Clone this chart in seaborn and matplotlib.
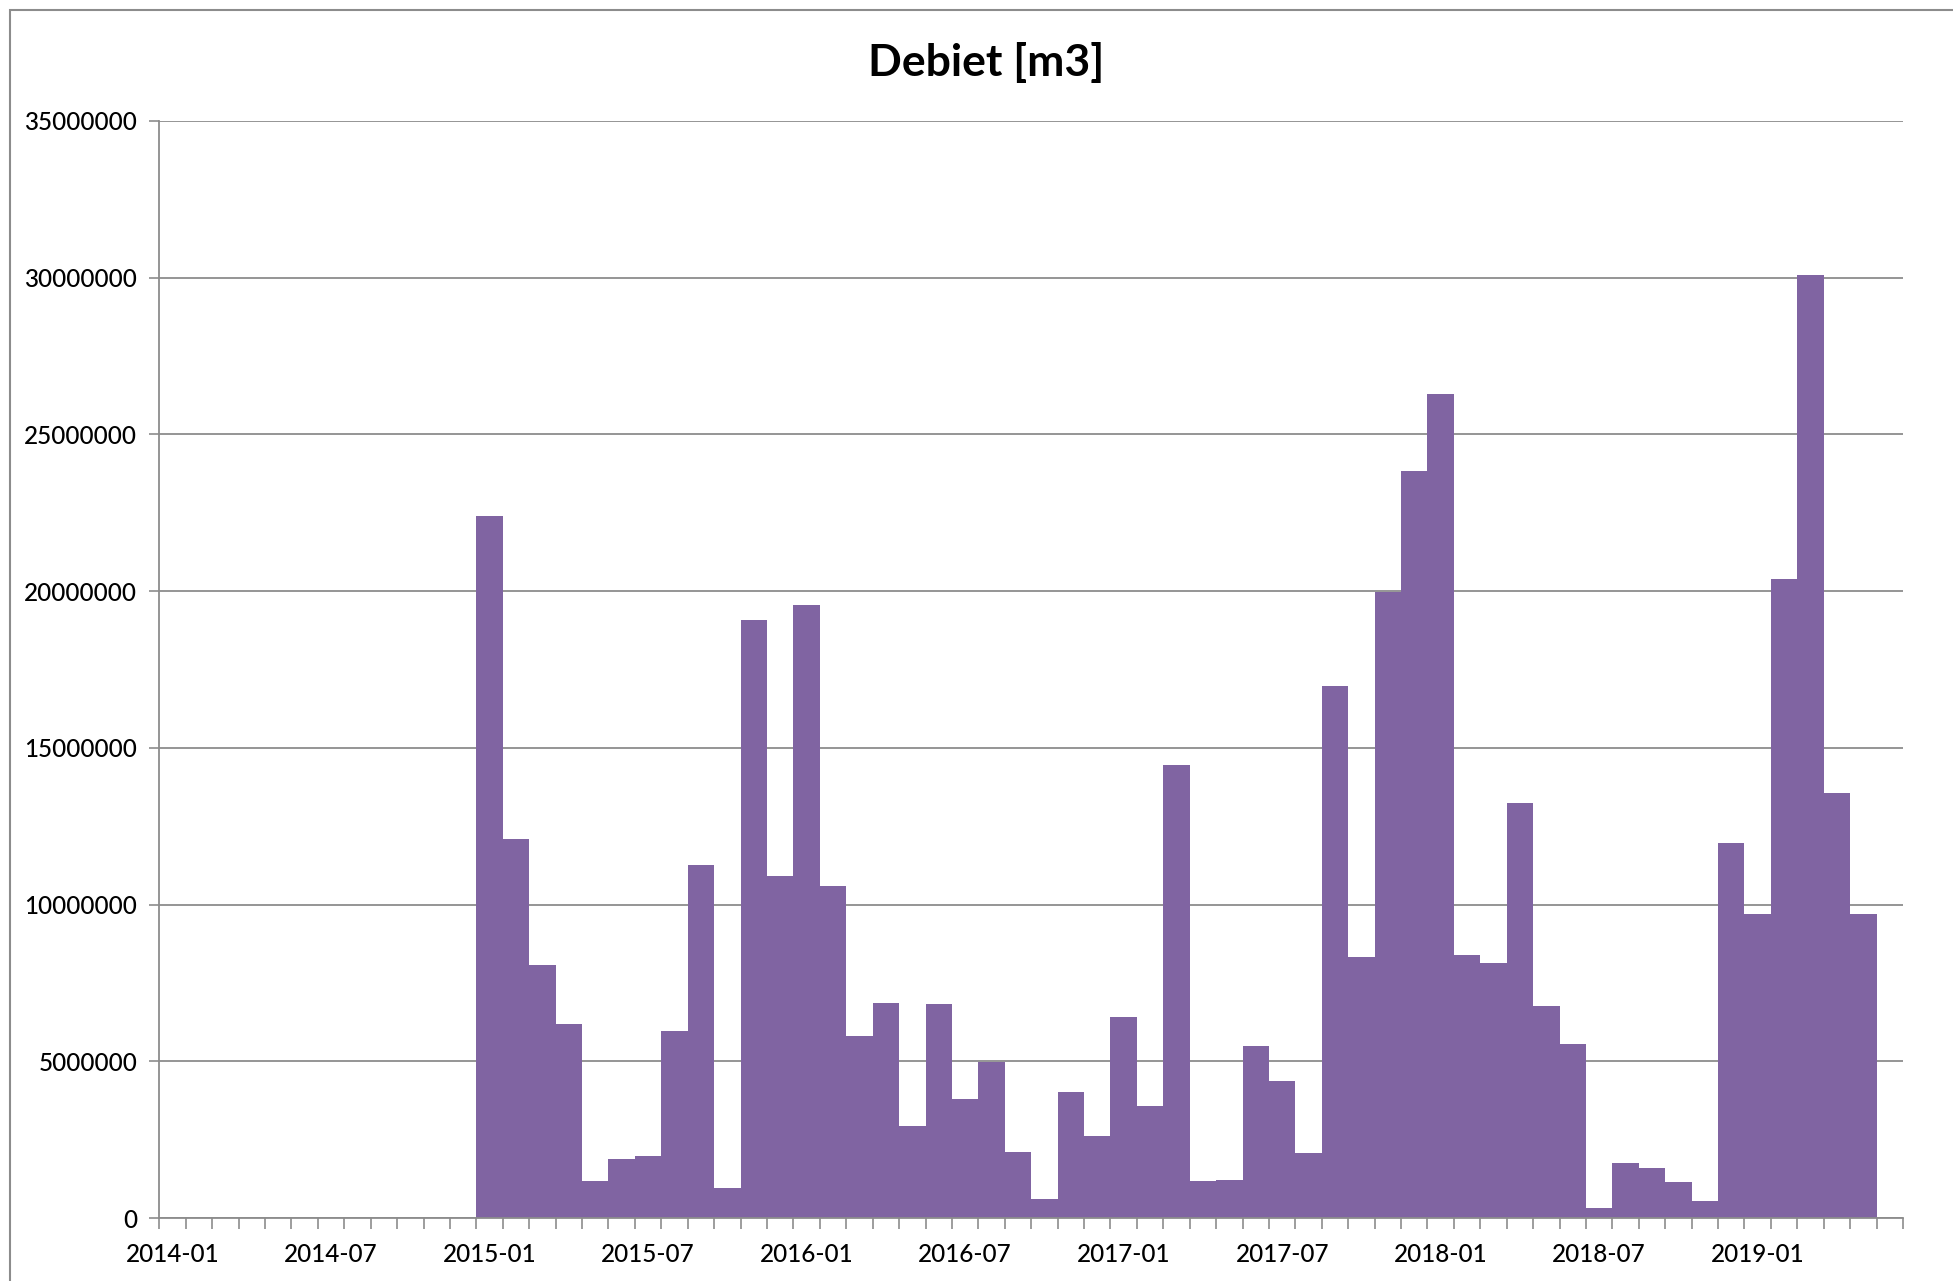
import pandas as pd
import seaborn as sns
import matplotlib.pyplot as plt
from matplotlib.patches import Rectangle
from matplotlib.ticker import FixedLocator

# axis runs 2014-01 .. 2019-06, data only from 2015-01
months = pd.period_range('2014-01', '2019-06', freq='M').strftime('%Y-%m').tolist()
data_months = pd.period_range('2015-01', '2019-05', freq='M').strftime('%Y-%m').tolist()
debiet = [
    22.4, 12.1, 8.07, 6.2, 1.19, 1.87, 1.99, 5.96, 11.25, 0.95, 19.07, 10.9,   # 2015
    19.55, 10.6, 5.8, 6.87, 2.94, 6.83, 3.81, 4.97, 2.1, 0.6, 4.01, 2.62,      # 2016
    6.4, 3.58, 14.46, 1.19, 1.23, 5.48, 4.37, 2.07, 16.96, 8.34, 19.98, 23.84, # 2017
    26.3, 8.38, 8.14, 13.23, 6.75, 5.56, 0.32, 1.75, 1.59, 1.15, 0.56, 11.96,  # 2018
    9.69, 20.38, 30.07, 13.55, 9.69,                                           # 2019
]
debiet = [v * 1e6 for v in debiet]
label_months = months[::6][:11]
yticks = list(range(0, 35000001, 5000000))

df = pd.DataFrame({'maand': data_months, 'debiet': debiet})

sns.set_style('white')
plt.rcParams['font.family'] = ['Lato', 'DejaVu Sans']
plt.rcParams['text.color'] = 'black'
plt.rcParams['xtick.labelcolor'] = 'black'
plt.rcParams['ytick.labelcolor'] = 'black'

fig = plt.figure(figsize=(19.53, 12.81), dpi=100)
ax = fig.add_axes([0.0816, 0.0491, 0.8928, 0.8566])

sns.barplot(data=df, x='maand', y='debiet', order=months, color='#8064A2',
            saturation=1, width=1.0, linewidth=0, ax=ax)

ax.set_xlim(-0.5, len(months) - 0.5)
ax.set_ylim(0, 35000000)
ax.set_yticks(yticks)
ax.set_yticklabels([str(v) for v in yticks], fontsize=17.5, fontweight='medium')
ax.yaxis.grid(True, color='#8c8c8c', linewidth=1.3)
ax.set_axisbelow(True)

pos = [months.index(m) for m in label_months]
ax.set_xticks(pos)
ax.set_xticklabels(label_months, fontsize=17.5, fontweight='medium')
ax.xaxis.set_minor_locator(FixedLocator([i - 0.5 for i in range(len(months) + 1)]))
ax.tick_params(axis='x', which='major', length=0, pad=18)
ax.tick_params(axis='x', which='minor', length=8, width=1.2, color='#8c8c8c', bottom=True)
ax.tick_params(axis='y', length=7, width=1.2, color='#8c8c8c', left=True, pad=9)
ax.set_xlabel('')
ax.set_ylabel('')

for s in ['top', 'right']:
    ax.spines[s].set_visible(False)
for s in ['left', 'bottom']:
    ax.spines[s].set_color('#8c8c8c')
    ax.spines[s].set_linewidth(1.3)

fig.text(0.505, 0.951, 'Debiet [m3]', ha='center', va='center',
         fontsize=32, fontweight='bold', color='black')

# chart border like the spreadsheet frame
fig.patches.append(Rectangle((0.005, -0.01), 1.1, 1.002, transform=fig.transFigure,
                             fill=False, edgecolor='#8c8c8c', linewidth=1.5))

fig.savefig('out.png', dpi=100)
